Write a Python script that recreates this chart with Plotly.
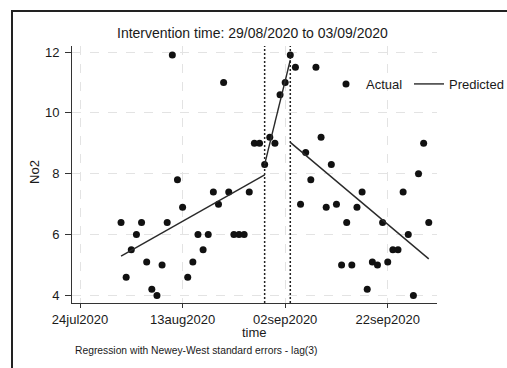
import plotly.graph_objects as go
import pandas as pd

# ---- data ----
start_date = "2020-08-01"
no2_actual = [6.4, 4.6, 5.5, 6.0, 6.4, 5.1, 4.2, 4.0, 5.0, 6.4,
              11.9, 7.8, 6.9, 4.6, 5.1, 6.0, 5.5, 6.0, 7.4, 7.0,
              11.0, 7.4, 6.0, 6.0, 6.0, 7.4, 9.0, 9.0, 8.3, 9.2,
              9.0, 10.6, 11.0, 11.9, 11.5, 7.0, 8.7, 7.8, 11.5, 9.2,
              6.9, 8.3, 7.0, 5.0, 6.4, 5.0, 6.9, 7.4, 4.2, 5.1,
              5.0, 6.4, 5.1, 5.5, 5.5, 7.4, 6.0, 4.0, 8.0, 9.0, 6.4]
dates = pd.date_range(start_date, periods=len(no2_actual), freq="D")

pre_dates = ["2020-08-01", "2020-08-29"]
pre_pred = [5.29, 7.96]
int_dates = ["2020-08-29", "2020-09-03"]
int_pred = [8.31, 11.74]
post_dates = ["2020-09-03", "2020-09-30"]
post_pred = [9.03, 5.2]

intervention = ["2020-08-29", "2020-09-03"]
tick_vals = ["2020-07-24", "2020-08-13", "2020-09-02", "2020-09-22"]
tick_text = ["24jul2020", "13aug2020", "02sep2020", "22sep2020"]
y_ticks = [4, 6, 8, 10, 12]

FONT = "Liberation Sans, Arial, sans-serif"
INK = "#1a1a1a"

fig = go.Figure()
fig.add_trace(go.Scatter(x=dates, y=no2_actual, mode="markers", name="Actual",
                         legend="legend",
                         marker=dict(color="#111111", size=7)))
pred_x = pre_dates + [None] + int_dates + [None] + post_dates
pred_y = pre_pred + [None] + int_pred + [None] + post_pred
fig.add_trace(go.Scatter(x=pred_x, y=pred_y, mode="lines", name="Predicted",
                         legend="legend2", connectgaps=False,
                         line=dict(color="#2a2a2a", width=1.4)))

for d in intervention:
    fig.add_shape(type="line", xref="x", yref="paper", x0=d, x1=d, y0=0, y1=1,
                  line=dict(color="#222222", width=1.5, dash="2px,2px"))

# outer frame
fig.add_shape(type="rect", xref="paper", yref="paper",
              x0=(12 - 72) / 365, x1=(512 - 72) / 365,
              y0=(303.2 - 374) / 257.2, y1=(303.2 - 11) / 257.2,
              line=dict(color="#222222", width=2), fillcolor="rgba(0,0,0,0)",
              layer="below")

legend_common = dict(orientation="h", xanchor="left", yanchor="middle",
                     y=(303.2 - 84) / 257.2,
                     bgcolor="rgba(0,0,0,0)", borderwidth=0,
                     font=dict(size=13, family=FONT, color=INK), itemwidth=30)

fig.update_layout(
    width=507, height=368,
    margin=dict(l=72, r=70, t=46, b=65, autoexpand=False),
    paper_bgcolor="white", plot_bgcolor="white",
    font=dict(family=FONT, size=13, color=INK),
    showlegend=True,
    legend=dict(x=(326 - 72) / 365, **legend_common),
    legend2=dict(x=(409 - 72) / 365, **legend_common),
    xaxis=dict(type="date", range=["2020-07-22 10:30", "2020-10-01 14:30"],
               tickvals=tick_vals, ticktext=tick_text,
               showgrid=True, gridcolor="#e3e3e3", griddash="dash", gridwidth=1,
               showline=True, linecolor="#333333", linewidth=1,
               ticks="outside", ticklen=4, tickcolor="#333333",
               tickfont=dict(size=13), zeroline=False),
    yaxis=dict(range=[3.75, 12.2], tickvals=y_ticks,
               showgrid=True, gridcolor="#e3e3e3", griddash="dash", gridwidth=1,
               showline=True, linecolor="#333333", linewidth=1,
               ticks="outside", ticklen=6, tickcolor="#333333",
               ticklabelstandoff=3,
               tickfont=dict(size=13), zeroline=False),
    annotations=[
        dict(text="Intervention time: 29/08/2020 to 03/09/2020", xref="paper", yref="paper",
             x=(252 - 72) / 365, y=(303.2 - 33) / 257.2, xanchor="center", yanchor="middle",
             showarrow=False, font=dict(size=14, family=FONT, color=INK)),
        dict(text="time", xref="paper", yref="paper",
             x=(254 - 72) / 365, y=(303.2 - 333) / 257.2, xanchor="center", yanchor="middle",
             showarrow=False, font=dict(size=13, family=FONT, color=INK)),
        dict(text="Regression with Newey-West standard errors - lag(3)", xref="paper", yref="paper",
             x=(73 - 72) / 365, y=(303.2 - 351) / 257.2, xanchor="left", yanchor="middle",
             showarrow=False, font=dict(size=10.3, family=FONT, color=INK)),
        dict(text="No2", xref="paper", yref="paper", textangle=-90,
             x=(35 - 72) / 365, y=(303.2 - 172) / 257.2, xanchor="center", yanchor="middle",
             showarrow=False, font=dict(size=13, family=FONT, color=INK)),
    ],
)

fig.write_html("out.html", config={"displayModeBar": False},
               post_script="document.body.style.margin='0px';")
